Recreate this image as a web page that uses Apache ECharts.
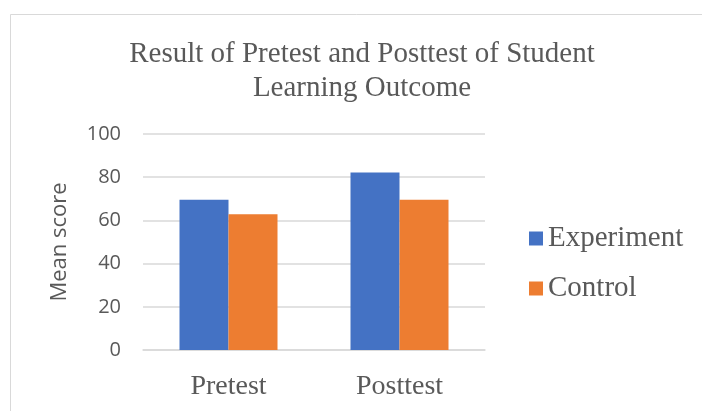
<!DOCTYPE html>
<html>
<head>
<meta charset="utf-8">
<script src="https://cdn.jsdelivr.net/npm/echarts@6/dist/echarts.min.js"></script>
<style>html,body{margin:0;padding:0;background:#fff;}#c{width:702px;height:411px;}</style>
</head>
<body>
<div id="c"></div>
<script>
var categories = ['Pretest', 'Posttest'];
var experiment = [69.6, 82.2];
var control = [62.8, 69.6];
var yTicks = [0, 20, 40, 60, 80, 100];

var chart = echarts.init(document.getElementById('c'));
chart.setOption({
  animation: false,
  backgroundColor: '#fff',
  graphic: [{
    type: 'rect', shape: {x: 10.5, y: 14.5, width: 720, height: 420},
    style: {fill: 'none', stroke: '#d9d9d9', lineWidth: 1}, silent: true
  }],
  title: {
    text: 'Result of Pretest and Posttest of Student\nLearning Outcome',
    left: 362, top: 37, textAlign: 'center', padding: 0,
    textStyle: {fontFamily: 'Liberation Serif', fontSize: 29, fontWeight: 'normal', color: '#595959', lineHeight: 34, align: 'center'}
  },
  legend: {
    orient: 'vertical', left: 529, top: 224, itemWidth: 14, itemHeight: 14, itemGap: 21,
    padding: 0, icon: 'rect',
    textStyle: {fontFamily: 'Liberation Serif', fontSize: 29, color: '#595959'},
    data: ['Experiment', 'Control']
  },
  grid: {left: 143, right: 217, top: 134, bottom: 61},
  xAxis: {
    type: 'category', data: categories,
    axisLine: {lineStyle: {color: '#d9d9d9', width: 1.5}},
    axisTick: {show: false},
    axisLabel: {fontFamily: 'Liberation Serif', fontSize: 28, color: '#595959', margin: 23}
  },
  yAxis: {
    type: 'value', min: 0, max: 100, interval: 20,
    name: 'Mean score', nameLocation: 'middle', nameGap: 72,
    nameTextStyle: {fontFamily: 'Open Sans', fontSize: 22, color: '#595959'},
    axisLine: {show: false}, axisTick: {show: false},
    axisLabel: {fontFamily: 'Open Sans', fontSize: 20, color: '#595959', margin: 22,
      formatter: function (v) { return yTicks.indexOf(v) >= 0 ? String(v) : ''; }},
    splitLine: {lineStyle: {color: '#d9d9d9', width: 1.5}}
  },
  series: [
    {name: 'Experiment', type: 'bar', data: experiment, barWidth: 49, barGap: '0%', itemStyle: {color: '#4472c4'}},
    {name: 'Control', type: 'bar', data: control, barWidth: 49, barGap: '0%', itemStyle: {color: '#ed7d31'}}
  ]
});
</script>
</body>
</html>
